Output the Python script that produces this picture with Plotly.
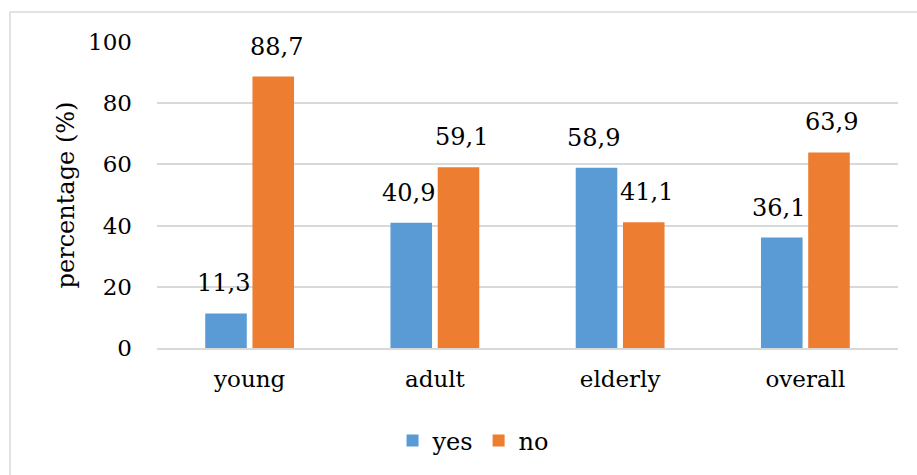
import plotly.graph_objects as go

categories = ["young", "adult", "elderly", "overall"]
yes_values = [11.3, 40.9, 58.9, 36.1]
no_values = [88.7, 59.1, 41.1, 63.9]
yes_labels = ["11,3", "40,9", "58,9", "36,1"]
no_labels = ["88,7", "59,1", "41,1", "63,9"]
y_ticks = [0, 20, 40, 60, 80, 100]

BLUE = "#5B9BD5"
ORANGE = "#ED7D31"
FONT = "DejaVu Serif"
GRID = "#D9D9D9"

fig = go.Figure()
fig.add_trace(go.Bar(name="yes", x=categories, y=yes_values, marker=dict(color=BLUE, line=dict(width=0))))
fig.add_trace(go.Bar(name="no", x=categories, y=no_values, marker=dict(color=ORANGE, line=dict(width=0))))

for cat, v, lab in zip(categories, yes_values, yes_labels):
    fig.add_annotation(x=cat, y=v, text=lab, xref="x", yref="y", showarrow=False,
                       xshift=-26.5, yshift=14, yanchor="bottom",
                       font=dict(family=FONT, size=24, color="#000"))
for cat, v, lab in zip(categories, no_values, no_labels):
    fig.add_annotation(x=cat, y=v, text=lab, xref="x", yref="y", showarrow=False,
                       xshift=26.5, yshift=14, yanchor="bottom",
                       font=dict(family=FONT, size=24, color="#000"))

# chart border (light gray)
fig.add_shape(type="rect", xref="paper", yref="paper",
              x0=(10 - 157) / 741, x1=1.2, y0=-0.6, y1=(348 - 12) / 306,
              line=dict(color=GRID, width=1.5), fillcolor="rgba(0,0,0,0)", layer="below")

fig.update_layout(
    width=917, height=475,
    margin=dict(l=157, r=19, t=42, b=127),
    paper_bgcolor="white", plot_bgcolor="white",
    barmode="group", bargap=0.49, bargroupgap=0.12,
    font=dict(family=FONT, size=23, color="#000"),
    legend=dict(orientation="h", x=0.4265, xanchor="center", y=-0.304, yanchor="middle",
                font=dict(family=FONT, size=24, color="#000"), itemwidth=30, traceorder="normal"),
    xaxis=dict(showgrid=False, showline=True, linecolor=GRID, linewidth=1.5,
               tickfont=dict(family=FONT, size=23), ticks="", ticklabelstandoff=10),
    yaxis=dict(range=[0, 100], tickvals=y_ticks, showgrid=True, gridcolor=GRID, gridwidth=1.5,
               zeroline=False, showline=False, ticks="", ticklabelstandoff=24,
               tickfont=dict(family=FONT, size=23),
               title=dict(text="percentage (%)", font=dict(family=FONT, size=24), standoff=6)),
)

fig.write_html("out.html")
